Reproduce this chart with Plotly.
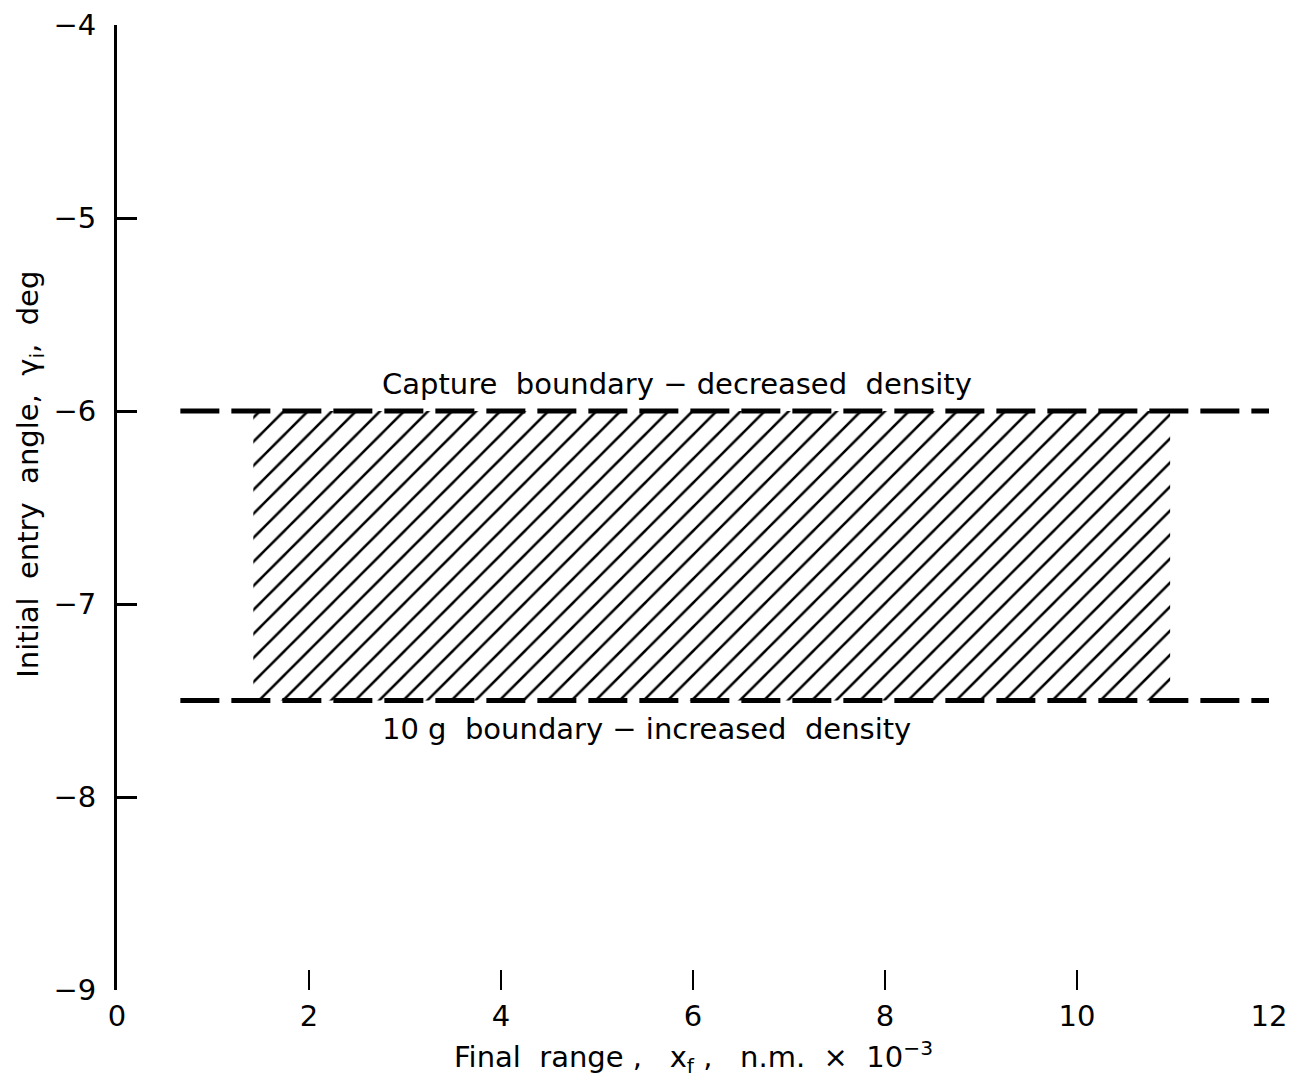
import plotly.graph_objects as go

# ---- data ----
x_tick_vals = [0, 2, 4, 6, 8, 10, 12]
x_tick_text = ["0", "2", "4", "6", "8", "10", "12"]
y_tick_vals = [-9, -8, -7, -6, -5, -4]
y_tick_text = ["−9", "−8", "−7", "−6", "−5", "−4"]

capture_angle = -6.0          # capture boundary, decreased density
g10_angle = -7.5              # 10 g boundary, increased density
boundary_x = [0.66, 12.0]     # extent of the dashed boundary lines
corridor_x = [1.42, 10.97]    # extent of the hatched corridor

capture_label = "Capture  boundary − decreased  density"
g10_label = "10 g  boundary − increased  density"
label_x = 2.74
capture_label_y = -5.86
g10_label_y = -7.65

FONT = "DejaVu Sans"

fig = go.Figure()

# hatched entry corridor
fig.add_trace(go.Scatter(
    x=[corridor_x[0], corridor_x[1], corridor_x[1], corridor_x[0], corridor_x[0]],
    y=[capture_angle, capture_angle, g10_angle, g10_angle, capture_angle],
    mode="lines", fill="toself", line=dict(width=0, color="rgba(0,0,0,0)"),
    fillcolor="white",
    fillpattern=dict(shape="/", size=17, solidity=0.15, fgcolor="black",
                     bgcolor="white", fgopacity=1),
    hoverinfo="skip", showlegend=False,
))

# dashed boundaries
for yv in (capture_angle, g10_angle):
    fig.add_trace(go.Scatter(
        x=boundary_x, y=[yv, yv], mode="lines",
        line=dict(color="black", width=5, dash="39px,12px"),
        showlegend=False, hoverinfo="skip",
    ))

fig.add_annotation(x=label_x, y=capture_label_y, text=capture_label, showarrow=False,
                   xanchor="left", yanchor="middle",
                   font=dict(family=FONT, size=29, color="black"))
fig.add_annotation(x=label_x, y=g10_label_y, text=g10_label, showarrow=False,
                   xanchor="left", yanchor="middle",
                   font=dict(family=FONT, size=29, color="black"))

# y-axis title (placed as annotation to match the reference position)
fig.add_annotation(xref="paper", x=0, xshift=-87, y=-6.33, yref="y",
                   text="Initial  entry  angle,  γ<sub>i</sub>,  deg", textangle=-90,
                   showarrow=False, xanchor="center", yanchor="middle",
                   font=dict(family=FONT, size=29, color="black"))

# x-axis title
fig.add_annotation(xref="paper", x=0.5, yref="paper", y=0, yshift=-67,
                   text="Final  range ,   x<sub>f</sub> ,   n.m.  ×  10<sup>−3</sup>",
                   showarrow=False, xanchor="center", yanchor="middle",
                   font=dict(family=FONT, size=29, color="black"))

fig.update_layout(
    width=1291, height=1083,
    margin=dict(l=117, r=22, t=25, b=93),
    paper_bgcolor="white", plot_bgcolor="white",
    showlegend=False,
    font=dict(family=FONT, color="black"),
)
fig.update_xaxes(
    range=[0, 12], tickvals=x_tick_vals, ticktext=x_tick_text,
    showline=False, showgrid=False, zeroline=False, automargin=False,
    ticks="inside", ticklen=20, tickwidth=2, tickcolor="black",
    tickfont=dict(family=FONT, size=29, color="black"),
    ticklabelstandoff=6,
)
fig.update_yaxes(
    range=[-9, -4], tickvals=y_tick_vals, ticktext=y_tick_text,
    showline=True, linewidth=3, linecolor="black",
    showgrid=False, zeroline=False, automargin=False,
    ticks="inside", ticklen=20, tickwidth=3, tickcolor="black",
    tickfont=dict(family=FONT, size=29, color="black"),
    ticklabelstandoff=12,
)

fig.write_html("out.html")
